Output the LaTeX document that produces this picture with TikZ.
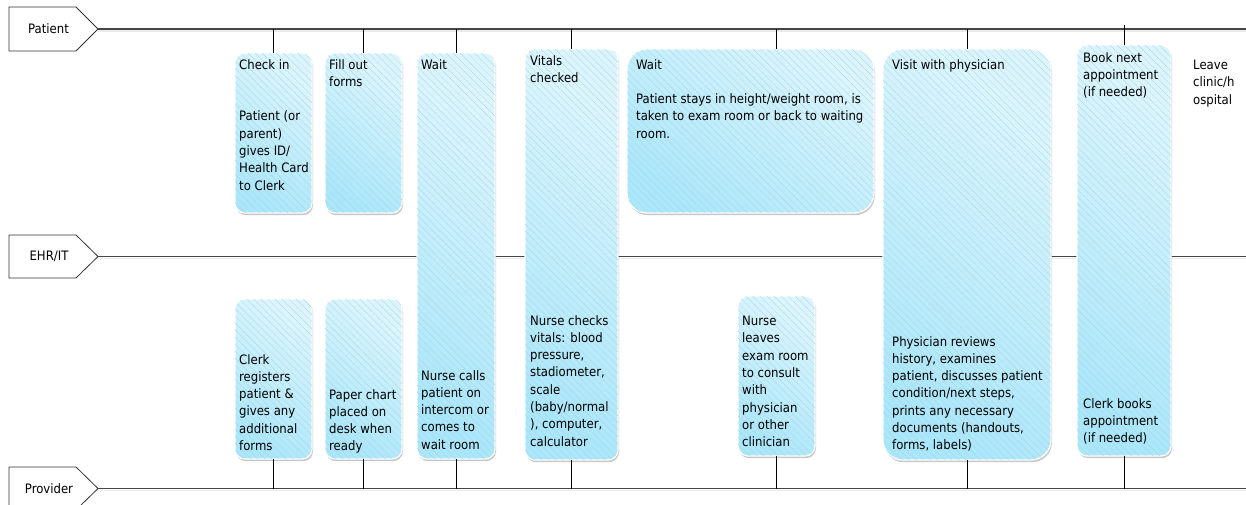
\documentclass[tikz,border=0pt]{standalone}
\usepackage{fontspec}
\setmainfont{DejaVu Sans Condensed}
\usetikzlibrary{shadows,patterns.meta,calc}
\definecolor{boxlight}{HTML}{DCF5FD}
\definecolor{boxdark}{HTML}{ABE7FA}
\definecolor{hatch}{HTML}{A8D4E3}
\definecolor{laneline}{HTML}{454545}
\definecolor{txtcol}{HTML}{000000}
\begin{document}
\begin{tikzpicture}[x=1bp,y=-1bp,
  font=\fontsize{13bp}{17.3bp}\selectfont,
  lanebox/.style={draw=black!80, line width=0.8bp, fill=white},
  lanetext/.style={inner sep=0pt, text=txtcol},
  laneln/.style={draw=laneline, line width=1.1bp},
  laneshadow/.style={draw=black!8, line width=1.5bp},
  conn/.style={draw=black, line width=1bp},
  box/.style={rectangle, anchor=north west, inner sep=0pt, outer sep=0pt,
    draw=white, line width=1.3bp,
    top color=boxlight, bottom color=boxdark, shading angle=-35,
    drop shadow={shadow xshift=1bp, shadow yshift=-2.2bp, opacity=0.4, fill=black!55},
    postaction={pattern={Lines[angle=-45,distance=5bp,line width=0.3bp]}, pattern color=hatch}},
  smallr/.style={rounded corners=10bp},
  bigr/.style={rounded corners=20bp},
  txt/.style={anchor=north west, align=left, inner sep=0pt, text=txtcol}
]
\useasboundingbox (0,0) rectangle (1246,505);

% lane labels
\draw[lanebox] (9,7) -- (76,7) -- (98,29) coordinate (patTip) -- (76,51) -- (9,51) -- cycle;
\node[lanetext] (patL) at (48.5,29) {Patient};
\draw[lanebox] (9,235) -- (76,235) -- (98,256.5) coordinate (ehrTip) -- (76,278) -- (9,278) -- cycle;
\node[lanetext] (ehrL) at (49,256.5) {EHR/IT};
\draw[lanebox] (9,467) -- (76,467) -- (98,488.5) coordinate (proTip) -- (76,510) -- (9,510) -- cycle;
\node[lanetext] (proL) at (49,488.5) {Provider};

\coordinate (patEnd) at (1246,29);
\coordinate (ehrEnd) at (1246,256.5);
\coordinate (proEnd) at (1246,488.5);

% lane lines
\draw[laneshadow] ($(patTip)+(0,2)$) -- ($(patEnd)+(0,2)$);
\draw[laneshadow] ($(ehrTip)+(0,2)$) -- ($(ehrEnd)+(0,2)$);
\draw[laneshadow] ($(proTip)+(0,2)$) -- ($(proEnd)+(0,2)$);
\draw[laneln] (patTip) -- (patEnd);
\draw[laneln] (ehrTip) -- (ehrEnd);
\draw[laneln] (proTip) -- (proEnd);

% boxes
\node[box, smallr, minimum width=77bp, minimum height=160bp] (chk) at (235,53) {};
\node[box, smallr, minimum width=77bp, minimum height=160bp] (fillf) at (325,53) {};
\node[box, smallr, minimum width=78bp, minimum height=406bp] (wait1) at (417,53) {};
\node[box, smallr, minimum width=93bp, minimum height=411bp] (vit) at (525,49) {};
\node[box, bigr, minimum width=247bp, minimum height=164bp] (wait2) at (627,49) {};
\node[box, bigr, minimum width=168bp, minimum height=411bp] (visit) at (883,49) {};
\node[box, smallr, minimum width=94bp, minimum height=411bp] (book) at (1077,45) {};
\node[box, smallr, minimum width=77bp, minimum height=160bp] (clerk) at (235,299) {};
\node[box, smallr, minimum width=77bp, minimum height=160bp] (paper) at (325,299) {};
\node[box, smallr, minimum width=77bp, minimum height=160bp] (nurse) at (738,296) {};

% connectors to Patient lane
\draw[conn] (chk.north) -- (chk.north |- patTip);
\draw[conn] (fillf.north) -- (fillf.north |- patTip);
\draw[conn] (wait1.north) -- (wait1.north |- patTip);
\draw[conn] (vit.north) -- (vit.north |- patTip);
\coordinate (wait2top) at ($(wait2.north west)+(149,0)$);
\draw[conn] (wait2top) -- (wait2top |- patTip);
\draw[conn] (visit.north) -- (visit.north |- patTip);
\draw[conn] (book.north) -- ($(book.north |- patTip)+(0,-4)$);

% connectors to Provider lane
\draw[conn] (clerk.south) -- (clerk.south |- proTip);
\draw[conn] (paper.south) -- (paper.south |- proTip);
\draw[conn] (wait1.south) -- (wait1.south |- proTip);
\draw[conn] (vit.south) -- (vit.south |- proTip);
\draw[conn] (nurse.south) -- (nurse.south |- proTip);
\draw[conn] (visit.south) -- (visit.south |- proTip);
\draw[conn] (book.south) -- (book.south |- proTip);

% texts
\node[txt] (chkT) at ($(chk.north west)+(4,6)$) {Check in\\[34.6bp]Patient (or\\parent)\\gives ID/\\Health Card\\to Clerk};
\node[txt] (fillT) at ($(fillf.north west)+(4,6)$) {Fill out\\forms};
\node[txt] (wait1T) at ($(wait1.north west)+(4,6)$) {Wait};
\node[txt] (wait1B) at (421,370) {Nurse calls\\patient on\\intercom or\\comes to\\wait room};
\node[txt] (vitT) at ($(vit.north west)+(5,6)$) {Vitals\\checked};
\node[txt] (vitB) at (530,315) {Nurse checks\\vitals: blood\\pressure,\\stadiometer,\\scale\\(baby/normal\\), computer,\\calculator};
\node[txt] (wait2T) at ($(wait2.north west)+(9,10)$) {Wait\\[17.3bp]Patient stays in height/weight room, is\\taken to exam room or back to waiting\\room.};
\node[txt] (nurseB) at (742,316) {Nurse\\leaves\\exam room\\to consult\\with\\physician\\or other\\clinician};
\node[txt] (visitT) at ($(visit.north west)+(9,10)$) {Visit with physician};
\node[txt] (visitB) at (892,336) {Physician reviews\\history, examines\\patient, discusses patient\\condition/next steps,\\prints any necessary\\documents (handouts,\\forms, labels)};
\node[txt] (bookT) at ($(book.north west)+(6,7)$) {Book next\\appointment\\(if needed)};
\node[txt] (bookB) at (1083,398) {Clerk books\\appointment\\(if needed)};
\node[txt] (clerkB) at (239,354) {Clerk\\registers\\patient \&\\gives any\\additional\\forms};
\node[txt] (paperB) at (329,389) {Paper chart\\placed on\\desk when\\ready};
\node[txt] (leaveT) at (1193,60) {Leave\\clinic/h\\ospital};
\end{tikzpicture}
\end{document}
